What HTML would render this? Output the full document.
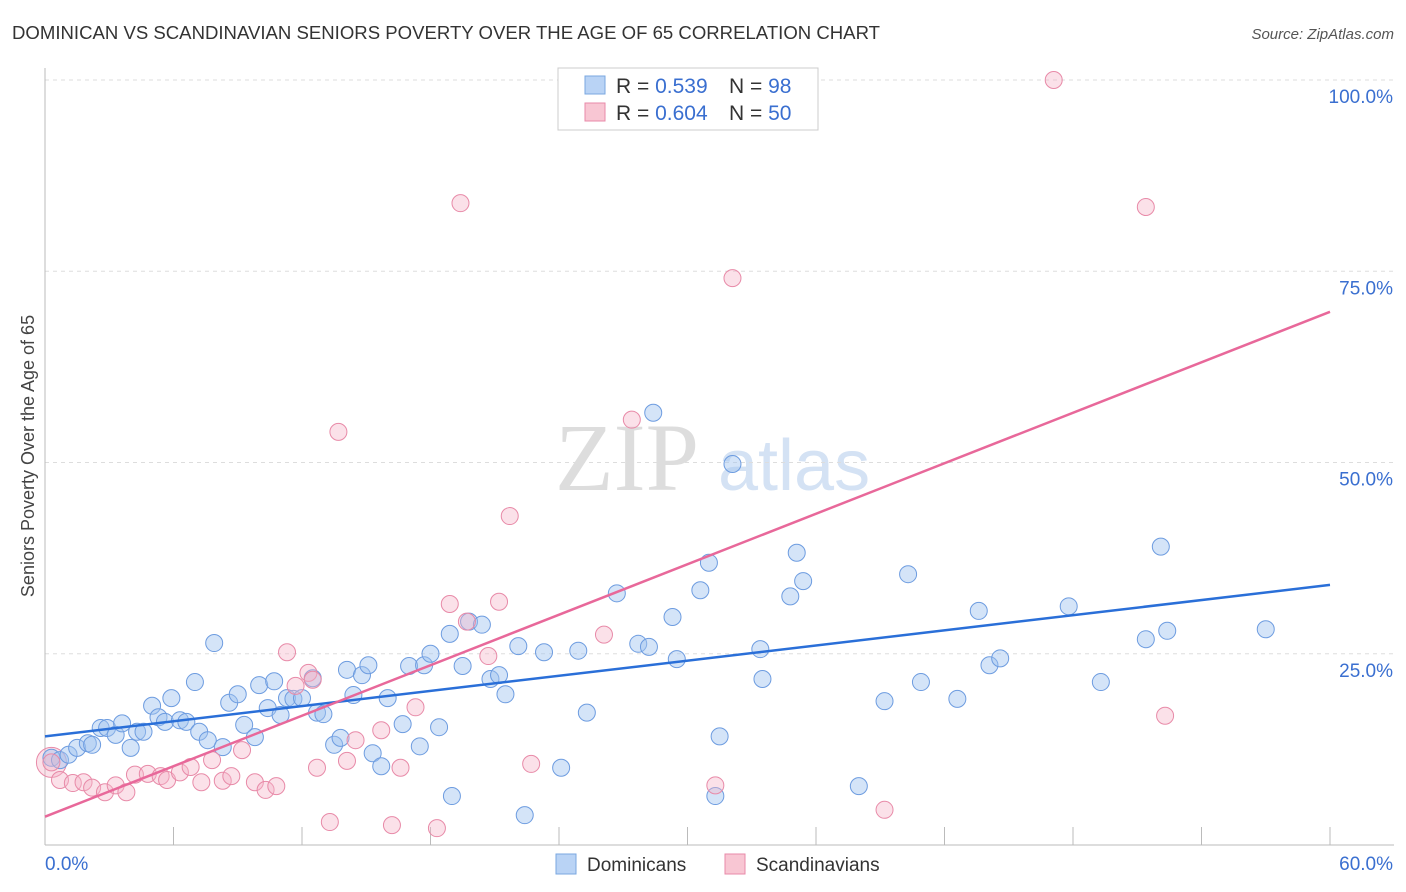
<!DOCTYPE html>
<html><head><meta charset="utf-8">
<style>
body{margin:0;background:#fff;font-family:"Liberation Sans",sans-serif;}
#wrap{position:relative;width:1406px;height:892px;overflow:hidden;}
</style></head>
<body>
<div id="wrap">
<svg id="chart" width="1406" height="892" xmlns="http://www.w3.org/2000/svg">
<text x="12" y="39" font-size="18" fill="#333" textLength="868" lengthAdjust="spacingAndGlyphs">DOMINICAN VS SCANDINAVIAN SENIORS POVERTY OVER THE AGE OF 65 CORRELATION CHART</text>
<text x="1394" y="39" font-size="15" fill="#555" font-style="italic" text-anchor="end">Source: ZipAtlas.com</text>
<text x="34" y="456" font-size="18" fill="#444" text-anchor="middle" transform="rotate(-90 34 456)">Seniors Poverty Over the Age of 65</text>
<text x="555" y="490" font-size="96" fill="#ddd" font-family="Liberation Serif,serif">ZIP</text>
<text x="718" y="490" font-size="72" fill="#d4e2f4">atlas</text>
<g id="grid"></g>
<g id="axes"></g>
<g id="pts"></g>
<g id="lines"></g>
<g>
<rect x="558" y="68" width="260" height="62" fill="#fff" stroke="#ccc"/>
<rect x="585" y="76" width="20" height="18" fill="#b9d3f5" stroke="#7aa7e0"/>
<text x="616" y="93" font-size="21" fill="#333">R = <tspan fill="#3a6fd0">0.539</tspan><tspan x="729">N = </tspan><tspan fill="#3a6fd0">98</tspan></text>
<rect x="585" y="103" width="20" height="18" fill="#f8c6d3" stroke="#e88aa8"/>
<text x="616" y="120" font-size="21" fill="#333">R = <tspan fill="#3a6fd0">0.604</tspan><tspan x="729">N = </tspan><tspan fill="#3a6fd0">50</tspan></text>
</g>
<g>
<rect x="556" y="854" width="20" height="20" fill="#b9d3f5" stroke="#7aa7e0"/>
<text x="587" y="871" font-size="19" fill="#333">Dominicans</text>
<rect x="725" y="854" width="20" height="20" fill="#f8c6d3" stroke="#e88aa8"/>
<text x="756" y="871" font-size="19" fill="#333">Scandinavians</text>
</g>
</svg>
</div>
<script>
const blueX=[0.3,0.7,1.1,1.5,2.0,2.2,2.6,2.9,3.3,3.6,4.0,4.3,4.6,5.0,5.3,5.6,5.9,6.3,6.6,7.0,7.2,7.6,7.9,8.3,8.6,9.0,9.3,9.8,10.0,10.4,10.7,11.0,11.3,11.6,12.0,12.5,12.7,13.0,13.5,13.8,14.1,14.4,14.8,15.1,15.3,15.7,16.0,16.7,17.0,17.5,17.7,18.0,18.4,18.9,19.0,19.5,19.8,20.4,20.8,21.2,21.5,22.1,22.4,23.3,24.1,24.9,25.3,26.7,27.7,28.2,29.3,29.5,30.6,31.0,31.3,31.5,32.1,33.4,33.5,34.8,35.1,35.4,38.0,39.2,40.3,40.9,42.6,43.6,44.1,44.6,47.8,49.3,51.4,52.1,52.4,57.0,28.4];
const blueY=[11.4,11.1,11.8,12.7,13.3,13.1,15.3,15.3,14.4,15.9,12.7,14.8,14.8,18.2,16.7,16.1,19.2,16.3,16.1,21.3,14.8,13.7,26.4,12.8,18.6,19.7,15.7,14.1,20.9,17.9,21.4,17.0,19.2,19.1,19.2,21.8,17.3,17.1,13.1,14.0,22.9,19.6,22.2,23.5,12.0,10.3,19.2,15.8,23.4,12.9,23.5,25.0,15.4,27.6,6.4,23.4,29.2,28.8,21.7,22.2,19.7,26.0,3.9,25.2,10.1,25.4,17.3,32.9,26.3,25.9,29.8,24.3,33.3,36.9,6.4,14.2,49.8,25.6,21.7,32.5,38.2,34.5,7.7,18.8,35.4,21.3,19.1,30.6,23.5,24.4,31.2,21.3,26.9,39.0,28.0,28.2,56.5];
const pinkX=[0.3,0.7,1.3,1.8,2.2,2.8,3.3,3.8,4.2,4.8,5.4,5.7,6.3,6.8,7.3,7.8,8.3,8.7,9.2,9.8,10.3,10.8,11.3,11.7,12.3,12.5,12.7,13.3,13.7,14.1,14.5,15.7,16.2,16.6,17.3,18.3,18.9,19.4,19.7,20.7,21.2,21.7,22.7,26.1,27.4,31.3,32.1,39.2,47.1,51.4,52.3];
const pinkY=[10.8,8.5,8.1,8.2,7.5,6.9,7.8,6.9,9.2,9.3,9.0,8.5,9.5,10.2,8.2,11.1,8.4,9.0,12.4,8.2,7.2,7.7,25.2,20.8,22.5,21.6,10.1,3.0,54.0,11.0,13.7,15.0,2.6,10.1,18.0,2.2,31.5,83.9,29.2,24.7,31.8,43.0,10.6,27.5,55.6,7.8,74.1,4.6,100,83.4,16.9];
const blueFit=[14.2,34.0];
const pinkFit=[3.7,69.7];
const yTicks=[25,50,75,100];
const xTickLabels=["0.0%","60.0%"];

const X0=45,X1=1330,Y0=845,PY=7.65;
const sx=v=>X0+v/60*(X1-X0);
const sy=v=>Y0-v*PY;
const NS="http://www.w3.org/2000/svg";
function mk(tag,attrs,parent){const e=document.createElementNS(NS,tag);for(const k in attrs)e.setAttribute(k,attrs[k]);parent.appendChild(e);return e;}
const grid=document.getElementById('grid'),axes=document.getElementById('axes'),pts=document.getElementById('pts'),lines=document.getElementById('lines');
yTicks.forEach(t=>{
  const l=mk('line',{x1:X0,x2:1394,y1:sy(t),y2:sy(t),stroke:'#ddd','stroke-dasharray':'4,4'},grid);
  
  
  const tx=mk('text',{x:1393,y:sy(t)+23,'font-size':19,fill:'#3a6fd0','text-anchor':'end'},grid);
  tx.textContent=t.toFixed(1)+'%';
  
  
});
const ya=mk('line',{x1:X0,x2:X0,y1:68,y2:Y0,stroke:'#bbb'},axes);


const xa=mk('line',{x1:X0,x2:1394,y1:Y0,y2:Y0,stroke:'#bbb'},axes);


for(let i=0;i<=10;i++){
  const t=mk('line',{x1:sx(i*6),x2:sx(i*6),y1:Y0-18,y2:Y0,stroke:'#bbb'},axes);
  
  
}
const xl0=mk('text',{x:45,y:870,'font-size':19,fill:'#3a6fd0'},axes);xl0.textContent=xTickLabels[0];


const xl1=mk('text',{x:1393,y:870,'font-size':19,fill:'#3a6fd0','text-anchor':'end'},axes);xl1.textContent=xTickLabels[1];



const bg=mk('circle',{cx:sx(0.3),cy:sy(10.8),r:15,fill:'rgba(245,180,200,0.4)',stroke:'#e88aa8'},pts);


blueX.forEach((x,i)=>{
  const c=mk('circle',{cx:sx(x),cy:sy(blueY[i]),r:8.5,fill:'rgba(160,195,240,0.45)',stroke:'#6d9ce0','stroke-width':1},pts);
  
  
});
pinkX.forEach((x,i)=>{
  const c=mk('circle',{cx:sx(x),cy:sy(pinkY[i]),r:8.5,fill:'rgba(245,180,200,0.4)',stroke:'#e88aa8','stroke-width':1},pts);
  
  
});
const bl=mk('line',{x1:sx(0),y1:sy(blueFit[0]),x2:sx(60),y2:sy(blueFit[1]),stroke:'#2a6fd8','stroke-width':2.5},lines);


const pl=mk('line',{x1:sx(0),y1:sy(pinkFit[0]),x2:sx(60),y2:sy(pinkFit[1]),stroke:'#e8689a','stroke-width':2.5},lines);


</script>
</body></html>
